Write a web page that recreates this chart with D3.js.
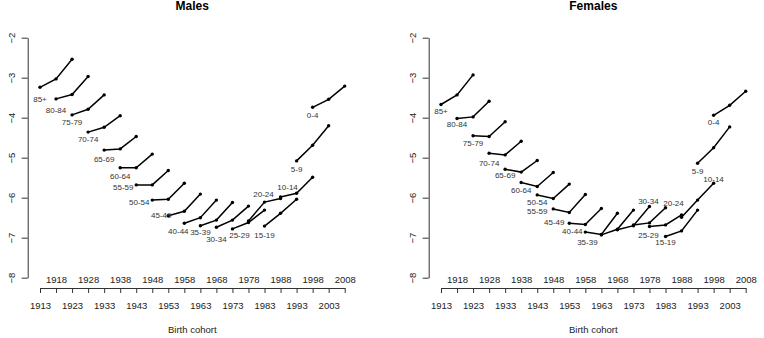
<!DOCTYPE html>
<html>
<head>
<meta charset="utf-8">
<script src="https://cdn.jsdelivr.net/npm/d3@7"></script>
<style>
  body { margin: 0; background: #fff; }
  svg text { font-family: "Liberation Sans", Arial, sans-serif; fill: #222; }
</style>
</head>
<body>
<svg id="chart" width="764" height="338"></svg>
<script>
// age groups, oldest first, with the first birth cohort of each
var ageGroups = ["85+", "80-84", "75-79", "70-74", "65-69", "60-64", "55-59", "50-54", "45-49",
                 "40-44", "35-39", "30-34", "25-29", "20-24", "15-19", "10-14", "5-9", "0-4"];
var cohortStart = [1913, 1918, 1923, 1928, 1933, 1938, 1943, 1948, 1953,
                   1958, 1963, 1968, 1973, 1978, 1983, 1988, 1993, 1998];
// three periods -> cohort shifts
var periodShift = [0, 5, 10];

// log rates, one row per age group
var maleRates = [
  [-3.24, -3.03, -2.54],
  [-3.53, -3.42, -2.97],
  [-3.93, -3.79, -3.43],
  [-4.36, -4.24, -3.95],
  [-4.81, -4.78, -4.47],
  [-5.25, -5.25, -4.91],
  [-5.68, -5.68, -5.32],
  [-6.06, -6.04, -5.64],
  [-6.45, -6.34, -5.91],
  [-6.64, -6.50, -6.06],
  [-6.70, -6.56, -6.12],
  [-6.74, -6.56, -6.21],
  [-6.78, -6.62, -6.31],
  [-6.58, -6.11, -6.02],
  [-6.71, -6.39, -6.04],
  [-5.98, -5.89, -5.49],
  [-5.08, -4.69, -4.20],
  [-3.74, -3.54, -3.21]
];
var femaleRates = [
  [-3.67, -3.43, -2.93],
  [-4.02, -3.98, -3.59],
  [-4.45, -4.47, -4.10],
  [-4.89, -4.93, -4.59],
  [-5.29, -5.36, -5.07],
  [-5.62, -5.72, -5.37],
  [-5.93, -6.02, -5.66],
  [-6.28, -6.37, -5.92],
  [-6.64, -6.67, -6.27],
  [-6.86, -6.92, -6.39],
  [-6.93, -6.79, -6.31],
  [-6.80, -6.70, -6.22],
  [-6.68, -6.63, -6.25],
  [-6.72, -6.68, -6.43],
  [-6.97, -6.83, -6.31],
  [-6.49, -6.06, -5.64],
  [-5.14, -4.75, -4.23],
  [-3.94, -3.69, -3.34]
];

var yTicks = [-8, -7, -6, -5, -4, -3, -2];
var xTicks = [1913, 1918, 1923, 1928, 1933, 1938, 1943, 1948, 1953, 1958,
              1963, 1968, 1973, 1978, 1983, 1988, 1993, 1998, 2003, 2008];
var xLabelsLow = [1913, 1923, 1933, 1943, 1953, 1963, 1973, 1983, 1993, 2003];
var xLabelsHigh = [1918, 1928, 1938, 1948, 1958, 1968, 1978, 1988, 1998, 2008];

// label nudges (px) from the first point of each line
var maleLabelNudge = [[0,12],[0,11],[0,7],[0,7],[0,9],[0,8],[-13,2],[-13,2],[-7,-1],
                      [-6,8],[0,6],[0,12],[7,6],[15,-27],[0,9],[7,-10],[0,8],[0,8]];
var femaleLabelNudge = [[0,7],[0,6],[0,7],[0,10],[0,6],[0,8],[0,16],[-16,-7],[-15,-1],
                        [-13,-1],[-14,7],[31,-29],[15,10],[24,-23],[0,6],[32,-38],[0,8],[0,7]];

var svg = d3.select("#chart");

function drawPanel(title, rates, nudge, left) {
  var x = d3.scaleLinear().domain([1913, 2008]).range([left, left + 304.7]);
  var y = d3.scaleLinear().domain([-8, -2]).range([277.7, 37.7]);
  var axisY = 288;
  var g = svg.append("g");

  // title
  g.append("text")
    .attr("x", left + 152.3)
    .attr("y", 9.5)
    .attr("text-anchor", "middle")
    .style("font-size", "12px")
    .style("font-weight", "bold")
    .style("fill", "#000")
    .text(title);

  // y axis
  var ya = g.append("g")
    .attr("transform", "translate(" + (left - 12.3) + ",0)")
    .call(d3.axisLeft(y).tickValues(yTicks).tickSize(6).tickSizeOuter(0).tickFormat(d3.format("d")));
  ya.selectAll("path, line").attr("stroke", "#333");
  ya.selectAll("text")
    .attr("x", 0).attr("dy", 0)
    .attr("text-anchor", "middle")
    .attr("transform", "translate(-12.5,0) rotate(-90)")
    .style("font-size", "9.5px")
    .style("font-family", "Liberation Sans, Arial, sans-serif")
    .style("fill", "#222");

  // x axis, lower labels
  var xa = g.append("g")
    .attr("transform", "translate(0," + axisY + ")")
    .call(d3.axisBottom(x).tickValues(xTicks).tickSize(5).tickSizeOuter(0).tickPadding(9.5)
      .tickFormat(function(d) { return xLabelsLow.indexOf(d) >= 0 ? d : ""; }));
  xa.selectAll("path, line").attr("stroke", "#333");
  xa.selectAll("text")
    .style("font-size", "9.5px")
    .style("font-family", "Liberation Sans, Arial, sans-serif")
    .style("fill", "#222");

  // x axis, upper labels (sitting above the axis line)
  var xb = g.append("g")
    .attr("transform", "translate(0," + axisY + ")")
    .call(d3.axisTop(x).tickValues(xLabelsHigh).tickSize(0).tickPadding(5.5).tickFormat(d3.format("d")));
  xb.select(".domain").remove();
  xb.selectAll("text")
    .style("font-size", "9.5px")
    .style("font-family", "Liberation Sans, Arial, sans-serif")
    .style("fill", "#222");

  // x axis title
  g.append("text")
    .attr("x", left + 152.3)
    .attr("y", 332.5)
    .attr("text-anchor", "middle")
    .style("font-size", "9.5px")
    .text("Birth cohort");

  var line = d3.line()
    .x(function(d) { return x(d.c); })
    .y(function(d) { return y(d.v); });

  ageGroups.forEach(function(name, i) {
    var pts = periodShift.map(function(s, j) { return { c: cohortStart[i] + s, v: rates[i][j] }; });

    g.append("path")
      .datum(pts)
      .attr("fill", "none")
      .attr("stroke", "#000")
      .attr("stroke-width", 1.5)
      .attr("d", line);

    g.selectAll(null)
      .data(pts)
      .enter().append("circle")
      .attr("cx", function(d) { return x(d.c); })
      .attr("cy", function(d) { return y(d.v); })
      .attr("r", 1.7)
      .attr("fill", "#000");

    g.append("text")
      .attr("x", x(pts[0].c) + nudge[i][0])
      .attr("y", y(pts[0].v) + nudge[i][1])
      .attr("dy", "0.35em")
      .attr("text-anchor", "middle")
      .style("font-size", "8px")
      .style("fill", "#333")
      .text(name);
  });
}

drawPanel("Males", maleRates, maleLabelNudge, 40);
drawPanel("Females", femaleRates, femaleLabelNudge, 441);
</script>
</body>
</html>
